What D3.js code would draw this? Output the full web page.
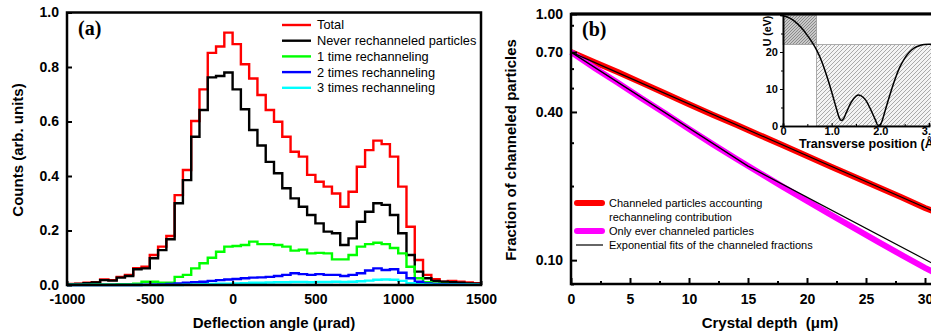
<!DOCTYPE html>
<html>
<head>
<meta charset="utf-8">
<script src="https://cdn.jsdelivr.net/npm/d3@7"></script>
<style>
  body { margin: 0; background: #fff; }
  svg { display: block; font-family: Arial, "Liberation Sans", sans-serif; }
</style>
</head>
<body>
<svg id="fig" width="931" height="335"></svg>
<script>
/* panel (a): deflection histograms, 50 urad bins from -1000 to 1500 */
const binLeft = d3.range(-1000, 1500, 50)

const total = [0.004, 0.005, 0.008, 0.010, 0.020, 0.018, 0.030, 0.037, 0.062, 0.067,
  0.110, 0.141, 0.180, 0.330, 0.422, 0.602, 0.718, 0.852, 0.875, 0.926,
  0.884, 0.810, 0.758, 0.697, 0.642, 0.599, 0.544, 0.489, 0.471, 0.404,
  0.379, 0.361, 0.336, 0.287, 0.342, 0.434, 0.495, 0.530, 0.517, 0.471,
  0.361, 0.214, 0.092, 0.037, 0.021, 0.012, 0.015, 0.012, 0.009, 0.007]

const never = [0.003, 0.004, 0.007, 0.009, 0.018, 0.016, 0.027, 0.033, 0.058, 0.061,
  0.098, 0.128, 0.168, 0.300, 0.385, 0.544, 0.642, 0.762, 0.767, 0.780,
  0.718, 0.645, 0.569, 0.512, 0.452, 0.410, 0.355, 0.318, 0.287, 0.257,
  0.226, 0.196, 0.190, 0.147, 0.171, 0.232, 0.269, 0.300, 0.294, 0.257,
  0.190, 0.110, 0.049, 0.025, 0.015, 0.012, 0.010, 0.008, 0.006, 0.005]

const once = [0.001, 0.001, 0.001, 0.002, 0.002, 0.002, 0.003, 0.003, 0.005, 0.012,
  0.012, 0.008, 0.008, 0.030, 0.037, 0.061, 0.080, 0.100, 0.122, 0.141,
  0.143, 0.147, 0.159, 0.150, 0.150, 0.147, 0.141, 0.126, 0.130, 0.116,
  0.118, 0.116, 0.094, 0.094, 0.110, 0.141, 0.150, 0.155, 0.150, 0.136,
  0.116, 0.067, 0.025, 0.010, 0.006, 0.004, 0.003, 0.002, 0.002, 0.001]

const twice = [0, 0, 0, 0, 0, 0, 0, 0, 0, 0.001,
  0.002, 0.002, 0.004, 0.006, 0.008, 0.010, 0.012, 0.015, 0.018, 0.020,
  0.022, 0.025, 0.027, 0.028, 0.030, 0.033, 0.037, 0.043, 0.040, 0.037,
  0.040, 0.037, 0.037, 0.033, 0.037, 0.043, 0.053, 0.061, 0.055, 0.058,
  0.045, 0.025, 0.012, 0.006, 0.004, 0.003, 0.002, 0.002, 0.001, 0.001]

const thrice = [0, 0, 0, 0, 0, 0, 0, 0, 0, 0,
  0, 0, 0, 0, 0.001, 0.002, 0.003, 0.004, 0.005, 0.005,
  0.006, 0.007, 0.008, 0.008, 0.009, 0.010, 0.010, 0.011, 0.011, 0.010,
  0.011, 0.011, 0.012, 0.011, 0.012, 0.014, 0.016, 0.019, 0.020, 0.019,
  0.015, 0.007, 0.003, 0.002, 0.001, 0.001, 0.001, 0.001, 0.001, 0.001]

const seriesA = [
  { name: 'Total', color: '#ff0000', values: total },
  { name: 'Never rechanneled particles', color: '#000000', values: never },
  { name: '1 time rechanneling', color: '#00ff00', values: once },
  { name: '2 times rechanneling', color: '#0000ff', values: twice },
  { name: '3 times rechanneling', color: '#00ffff', values: thrice }
]
const xTicksA = [-1000, -500, 0, 500, 1000, 1500]
const yTicksA = [0, 0.2, 0.4, 0.6, 0.8, 1.0]

/* panel (b): channeled fraction vs crystal depth */
const depth = [0, 2, 4, 6, 8, 10, 12, 14, 16, 18, 20, 22, 24, 26, 28, 30, 31]
const fracAll = [0.700, 0.637, 0.580, 0.525, 0.475, 0.430, 0.390, 0.355, 0.322,
  0.292, 0.265, 0.240, 0.218, 0.198, 0.180, 0.163, 0.156]
const fracEver = [0.700, 0.604, 0.524, 0.454, 0.394, 0.341, 0.296, 0.258, 0.226,
  0.198, 0.174, 0.153, 0.135, 0.119, 0.105, 0.093, 0.088]
const fitDepthAll = [0, 31]
const fitAll = [0.700, 0.156]
const fitDepthEver = [0, 15, 31]
const fitEver = [0.700, 0.241, 0.095]
const xTicksB = [0, 5, 10, 15, 20, 25, 30]
const xMinorB = [2.5, 7.5, 12.5, 17.5, 22.5, 27.5]
const yTicksB = [0.1, 0.4, 0.7, 1.0]
const yMinorB = [0.08, 0.2, 0.3, 0.5, 0.6, 0.9]

/* inset: transverse potential */
const potX = [0, 0.1, 0.2, 0.3, 0.4, 0.5, 0.6, 0.7, 0.8, 0.9, 1.0, 1.1, 1.15, 1.2, 1.25,
  1.3, 1.4, 1.5, 1.55, 1.6, 1.7, 1.8, 1.9, 1.95, 2.0, 2.1, 2.2, 2.3, 2.4, 2.5, 2.6,
  2.7, 2.8, 2.9, 3.0, 3.1]
const potU = [29.7, 29.4, 28.7, 27.6, 26.2, 24.5, 22.6, 20.3, 17.3, 13.5, 9.2, 4.6, 2.4, 1.5, 2.1,
  3.6, 6.4, 8.1, 8.4, 8.2, 7.0, 4.5, 1.6, 0.2, 0.4, 4.2, 8.6, 12.6, 15.9, 18.3, 20.0,
  21.1, 21.7, 22.0, 22.1, 22.0]
const uBarrier = 22
const xBarrier = 0.69

const svg = d3.select('#fig')
svg.append('rect').attr('width', 931).attr('height', 335).attr('fill', '#fff')

const bold = sel => sel.attr('font-weight', 'bold')

// ---------- panel (a)
const xa = d3.scaleLinear().domain([-1000, 1500]).range([67, 481])
const ya = d3.scaleLinear().domain([0, 1]).range([285, 12.5])

const gA = svg.append('g')

const step = d3.line()
  .x(d => xa(d[0]))
  .y(d => ya(d[1]))
  .curve(d3.curveStepAfter)

seriesA.forEach(s => {
  const pts = binLeft.map((x, i) => [x, s.values[i]])
  pts.push([1500, s.values[s.values.length - 1]])
  gA.append('path')
    .attr('d', step(pts))
    .attr('fill', 'none')
    .attr('stroke', s.color)
    .attr('stroke-width', 2.4)
})

const axA = gA.append('g').attr('transform', 'translate(0,285)')
  .call(d3.axisBottom(xa).tickValues(xTicksA).tickSize(-4).tickPadding(9).tickFormat(d => String(d)))
const ayA = gA.append('g').attr('transform', 'translate(67,0)')
  .call(d3.axisLeft(ya).tickValues(yTicksA).tickSize(-5).tickPadding(8).tickFormat(d3.format('.1f')))
;[axA, ayA].forEach(a => {
  a.select('.domain').remove()
  a.selectAll('line').attr('stroke-width', 2)
  a.selectAll('text').attr('font-size', 14).attr('font-weight', 'bold').attr('fill', '#000')
    .attr('font-family', 'Arial, "Liberation Sans", sans-serif')
})

gA.append('rect')
  .attr('x', 67).attr('y', 12.5).attr('width', 414).attr('height', 272.5)
  .attr('fill', 'none').attr('stroke', '#000').attr('stroke-width', 2.5)

gA.append('text').text('(a)')
  .attr('x', 78).attr('y', 35)
  .attr('font-family', '"Liberation Serif", "Times New Roman", serif')
  .attr('font-size', 20).call(bold)

gA.append('text').text('Deflection angle (μrad)')
  .attr('x', 274).attr('y', 328).attr('text-anchor', 'middle')
  .attr('font-size', 15).call(bold)

gA.append('text').text('Counts (arb. units)')
  .attr('transform', 'translate(23,150) rotate(-90)')
  .attr('text-anchor', 'middle').attr('font-size', 15).call(bold)

const legA = gA.append('g')
seriesA.forEach((s, i) => {
  const y = 25 + i * 15.7
  legA.append('line').attr('x1', 282).attr('x2', 311).attr('y1', y).attr('y2', y)
    .attr('stroke', s.color).attr('stroke-width', 2.4)
  legA.append('text').text(s.name).attr('x', 317).attr('y', y).attr('dy', '0.35em')
    .attr('font-size', 12.8)
})

// ---------- panel (b)
const xb = d3.scaleLinear().domain([0, 32]).range([571, 571 + 11.8 * 32])
const yb = d3.scaleLog().domain([0.08, 1]).range([284, 14])

const gB = svg.append('g')

const lineB = d3.line().x(d => xb(d[0])).y(d => yb(d[1]))
const zipB = (xs, ys) => xs.map((x, i) => [x, ys[i]])

gB.append('path').attr('d', lineB(zipB(depth, fracAll)))
  .attr('fill', 'none').attr('stroke', '#ff0000').attr('stroke-width', 6)
gB.append('path').attr('d', lineB(zipB(depth, fracEver)))
  .attr('fill', 'none').attr('stroke', '#ff00ff').attr('stroke-width', 6)
gB.append('path').attr('d', lineB(zipB(fitDepthAll, fitAll)))
  .attr('fill', 'none').attr('stroke', '#000').attr('stroke-width', 1.2)
gB.append('path').attr('d', lineB(zipB(fitDepthEver, fitEver)))
  .attr('fill', 'none').attr('stroke', '#000').attr('stroke-width', 1.2)

const axB = gB.append('g').attr('transform', 'translate(0,284)')
  .call(d3.axisBottom(xb).tickValues(xTicksB).tickSize(-6).tickPadding(10).tickFormat(d => String(d)))
const axBm = gB.append('g').attr('transform', 'translate(0,284)')
  .call(d3.axisBottom(xb).tickValues(xMinorB).tickSize(-3).tickFormat(''))
const ayB = gB.append('g').attr('transform', 'translate(571,0)')
  .call(d3.axisLeft(yb).tickValues(yTicksB).tickSize(-6).tickPadding(8).tickFormat(d3.format('.2f')))
const ayBm = gB.append('g').attr('transform', 'translate(571,0)')
  .call(d3.axisLeft(yb).tickValues(yMinorB).tickSize(-3).tickFormat(''))
;[axB, axBm, ayB, ayBm].forEach(a => {
  a.select('.domain').remove()
  a.selectAll('line').attr('stroke-width', 2)
  a.selectAll('text').attr('font-size', 14).attr('font-weight', 'bold').attr('fill', '#000')
    .attr('font-family', 'Arial, "Liberation Sans", sans-serif')
})

// legend (b)
const legB = gB.append('g')
legB.append('line').attr('x1', 577).attr('x2', 602).attr('y1', 203).attr('y2', 203)
  .attr('stroke', '#ff0000').attr('stroke-width', 6).attr('stroke-linecap', 'round')
legB.append('line').attr('x1', 577).attr('x2', 602).attr('y1', 231).attr('y2', 231)
  .attr('stroke', '#ff00ff').attr('stroke-width', 6).attr('stroke-linecap', 'round')
legB.append('line').attr('x1', 576).attr('x2', 603).attr('y1', 245).attr('y2', 245)
  .attr('stroke', '#000').attr('stroke-width', 1.2)
const legTexts = [
  ['Channeled particles accounting', 203],
  ['rechanneling contribution', 217],
  ['Only ever channeled particles', 231],
  ['Exponential fits of the channeled fractions', 245]
]
legTexts.forEach(([t, y]) => {
  legB.append('text').text(t).attr('x', 609).attr('y', y).attr('dy', '0.35em').attr('font-size', 11)
})

// inset
const xi = d3.scaleLinear().domain([0, 3]).range([783, 929])
const yi = d3.scaleLinear().domain([0, 30]).range([126, 15])

const defs = svg.append('defs')
const hatchL = defs.append('pattern').attr('id', 'hatchL')
  .attr('patternUnits', 'userSpaceOnUse').attr('width', 4).attr('height', 4)
hatchL.append('rect').attr('width', 4).attr('height', 4).attr('fill', '#f4f4f4')
hatchL.append('path').attr('d', 'M-1,1 l2,-2 M0,4 l4,-4 M3,5 l2,-2')
  .attr('stroke', '#8a8a8a').attr('stroke-width', 0.7)
const hatchD = defs.append('pattern').attr('id', 'hatchD')
  .attr('patternUnits', 'userSpaceOnUse').attr('width', 3).attr('height', 3)
hatchD.append('rect').attr('width', 3).attr('height', 3).attr('fill', '#c8c8c8')
hatchD.append('path').attr('d', 'M-1,1 l2,-2 M0,3 l3,-3 M2,4 l2,-2')
  .attr('stroke', '#707070').attr('stroke-width', 0.7)

const gI = svg.append('g')
gI.append('rect').attr('x', xi(0)).attr('y', 14).attr('width', 160).attr('height', yi(0) - 14)
  .attr('fill', '#fff')
gI.append('rect')
  .attr('x', xi(xBarrier)).attr('y', yi(uBarrier))
  .attr('width', 160).attr('height', yi(0) - yi(uBarrier))
  .attr('fill', 'url(#hatchL)').attr('stroke', '#999').attr('stroke-width', 0.8)
gI.append('rect')
  .attr('x', xi(0)).attr('y', yi(30))
  .attr('width', xi(xBarrier) - xi(0)).attr('height', yi(uBarrier) - yi(30))
  .attr('fill', 'url(#hatchD)').attr('stroke', '#999').attr('stroke-width', 0.8)

gI.append('path')
  .attr('d', d3.line().x(d => xi(d[0])).y(d => yi(d[1])).curve(d3.curveMonotoneX)(zipB(potX, potU)))
  .attr('fill', 'none').attr('stroke', '#000').attr('stroke-width', 1.5)

const axI = gI.append('g').attr('transform', `translate(0,${yi(0)})`)
  .call(d3.axisBottom(xi).tickValues([0, 1, 2, 3]).tickSize(-3).tickPadding(1)
    .tickFormat(d => d === 0 ? '0' : d3.format('.1f')(d)))
const axIm = gI.append('g').attr('transform', `translate(0,${yi(0)})`)
  .call(d3.axisBottom(xi).tickValues([0.5, 1.5, 2.5]).tickSize(-2).tickFormat(''))
const ayI = gI.append('g').attr('transform', `translate(${xi(0)},0)`)
  .call(d3.axisLeft(yi).tickValues([0, 10, 20]).tickSize(3).tickPadding(2))
const ayIm = gI.append('g').attr('transform', `translate(${xi(0)},0)`)
  .call(d3.axisLeft(yi).tickValues([5, 15, 25]).tickSize(2).tickFormat(''))
;[axI, axIm, ayI, ayIm].forEach(a => {
  a.selectAll('.domain').attr('stroke-width', 1.5)
  a.selectAll('line').attr('stroke-width', 1)
  a.selectAll('text').attr('font-size', 11).attr('font-weight', 'bold').attr('fill', '#000')
    .attr('font-family', 'Arial, "Liberation Sans", sans-serif')
})

gI.append('text').text('Transverse position (Å)')
  .attr('x', 799).attr('y', 148).attr('font-size', 12.5).call(bold)
gI.append('text').text('U (eV)')
  .attr('transform', 'translate(771,31) rotate(-90)')
  .attr('text-anchor', 'middle').attr('font-size', 10.5).call(bold)

// frame (b) on top
gB.append('rect')
  .attr('x', 571).attr('y', 14).attr('width', 400).attr('height', 270)
  .attr('fill', 'none').attr('stroke', '#000').attr('stroke-width', 2.5)
svg.append('line').attr('x1', 571).attr('x2', 931).attr('y1', 14).attr('y2', 14)
  .attr('stroke', '#000').attr('stroke-width', 3)

svg.append('text').text('(b)')
  .attr('x', 582).attr('y', 36)
  .attr('font-family', '"Liberation Serif", "Times New Roman", serif')
  .attr('font-size', 20).call(bold)

svg.append('text').text('Crystal depth  (μm)')
  .attr('x', 770).attr('y', 328).attr('text-anchor', 'middle')
  .attr('font-size', 15).attr('xml:space', 'preserve').style('white-space', 'pre').call(bold)

svg.append('text').text('Fraction of channeled particles')
  .attr('transform', 'translate(516,150) rotate(-90)')
  .attr('text-anchor', 'middle').attr('font-size', 15).call(bold)
</script>
</body>
</html>
